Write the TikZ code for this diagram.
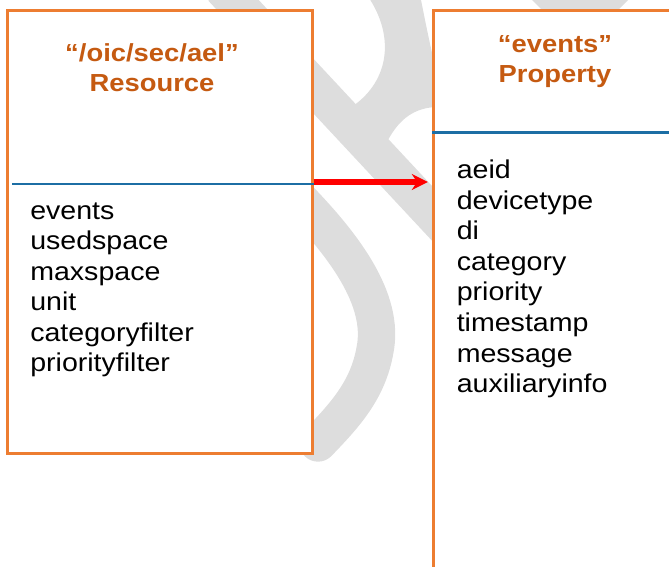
\documentclass[tikz,border=0pt]{standalone}
\usepackage{fontspec}
\setmainfont{Liberation Sans}[FakeStretch=1.11]
\usetikzlibrary{arrows.meta,calc}
\definecolor{boxorange}{HTML}{ED7D31}
\definecolor{titlebrown}{HTML}{C55A11}
\definecolor{rulebl}{HTML}{1C6EA4}
\definecolor{markgray}{HTML}{DDDDDD}

\begin{document}
\begin{tikzpicture}[
x=0.75pt,
y=-0.75pt,
>={Stealth[length=12pt,width=12pt]},
box/.style={
	rectangle,
	draw=boxorange,
	line width=2.25pt,
	fill=white,
	inner sep=0pt
},
divider/.style={
	draw=rulebl,
	line width=2pt
},
link/.style={
	->,
	draw=red,
	line width=4pt,
	shorten >=3pt
},
title/.style={
	text=titlebrown,
	font=\fontsize{18.5}{22.5}\selectfont\bfseries,
	align=center,
	inner sep=0pt
},
field/.style={
	font=\fontsize{19.3}{23}\selectfont,
	anchor=base west,
	inner sep=0pt
},
wmark/.style={
	draw=markgray,
	line width=28pt
}
]
\useasboundingbox (0,0) rectangle (669,567);
\clip (0,0) rectangle (669,567);

\fill[markgray] (367,-5) .. controls (395,35) and (390,80) .. (353,106)
	-- (388,140) .. controls (400,118) and (415,108) .. (436,107)
	-- (436,70) .. controls (430,45) and (426,25) .. (420,-5) -- cycle;
\draw[wmark] (222,-12) -- (455,238);
\draw[wmark,line cap=round] (290,190) .. controls (345,245) and (385,300) .. (375,350)
	.. controls (368,390) and (345,415) .. (318,443);
\fill[markgray] (530,-2) -- (630,-2) -- (612,16) -- (548,16) -- cycle;

\node[box,minimum width=228.75pt,minimum height=332.5pt] (res) at (159.5,232.3) {};
\node[box,minimum width=183pt,minimum height=442pt] (prop) at (555.3,305.3) {};

\coordinate (rescut) at (12,184);
\draw[divider] (rescut) -- (rescut -| res.east);
\coordinate (propcut) at (prop.west |- 0,132.7);
\draw[divider] (propcut) -- (propcut -| prop.east);

\node[title] (restitle) at (152,68) {“/oic/sec/ael”\\Resource};
\node[title] (proptitle) at (555,61.5) {“events”\\Property};

\foreach \l [count=\i] in {events,usedspace,maxspace,unit,categoryfilter,priorityfilter}
\node[field] (rf\i) at (30,{219.3+30.5*(\i-1)}) {\l};

\foreach \l [count=\i] in {aeid,devicetype,di,category,priority,timestamp,message,auxiliaryinfo}
\node[field] (pf\i) at (456.5,{178.5+30.6*(\i-1)}) {\l};

\coordinate (src) at (res.east |- 0,182);
\draw[link] (src) -- (src -| prop.west);
\end{tikzpicture}
\end{document}
